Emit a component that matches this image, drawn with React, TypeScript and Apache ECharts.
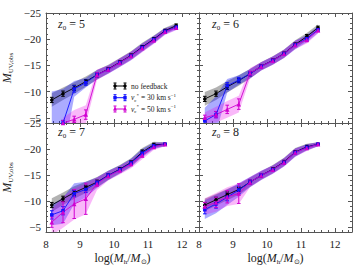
import React, { useEffect, useRef } from "react";
import * as echarts from "echarts";

const massBins = [8.17, 8.5, 8.83, 9.17, 9.5, 9.83, 10.17, 10.5, 10.83, 11.17, 11.5, 11.83];
const xTicks = [8, 9, 10, 11, 12];
const yTicks = [-25, -20, -15, -10, -5];

// z0 = 5
const z5Black = [-8.4, -9.6, -10.7, -11.9, -13.2, -14.3, -15.6, -16.9, -18.5, -20.0, -21.6, -22.6];
const z5BlackErr = [0.5, 0.5, 0.5, 0.4, 0.4, 0.3, 0.3, 0.3, 0.3, 0.3, 0.3, 0.3];
const z5BlackBand = [1.3, 1.2, 1.1, 1.0, 0.9, 0.8, 0.8, 0.8, 0.8, 0.7, 0.6, 0.5];
const z5Blue = [-3.0, -4.0, -10.5, -11.7, -13.2, -14.2, -15.5, -16.8, -18.4, -19.9, -21.5, -22.3];
const z5BlueErr = [0.5, 0.5, 0.6, 0.5, 0.4, 0.3, 0.3, 0.3, 0.3, 0.3, 0.3, 0.3];
const z5BlueBand = [7.0, 6.5, 1.5, 0.9, 0.9, 0.8, 0.8, 0.8, 0.8, 0.7, 0.6, 0.5];
const z5Mag = [null, -4.0, -4.7, -5.6, -13.2, -14.2, -15.5, -16.8, -18.3, -19.8, -21.4, -22.2];
const z5MagErr = [0, 0.5, 0.6, 0.9, 0.4, 0.3, 0.3, 0.3, 0.3, 0.3, 0.3, 0.3];
const z5MagBand = [0, 1.0, 1.8, 1.8, 1.0, 0.8, 0.8, 0.8, 0.8, 0.7, 0.6, 0.5];

// z0 = 6
const z6Black = [-8.6, -9.6, -10.9, -12.1, -13.4, -14.85, -15.95, -17.25, -19.0, -20.5, -22.2];
const z6BlackErr = [0.5, 0.5, 0.5, 0.4, 0.4, 0.3, 0.3, 0.3, 0.3, 0.4, 0.3];
const z6BlackBand = [1.3, 1.2, 1.1, 1.0, 0.9, 0.8, 0.8, 0.8, 0.8, 0.7, 0.6];
const z6Blue = [-4.4, -5.6, -11.1, -12.2, -13.4, -14.8, -15.9, -17.2, -18.9, -20.1, -21.8];
const z6BlueErr = [0.5, 0.6, 0.6, 0.5, 0.4, 0.3, 0.3, 0.3, 0.3, 0.4, 0.3];
const z6BlueBand = [2.5, 3.5, 1.3, 0.9, 0.9, 0.8, 0.8, 0.8, 0.8, 0.7, 0.6];
const z6Mag = [-5.0, -5.6, -6.6, -7.6, -13.5, -14.8, -15.9, -17.2, -18.9, -19.9, -21.7];
const z6MagErr = [0.5, 0.6, 0.8, 1.0, 0.4, 0.3, 0.3, 0.3, 0.3, 0.4, 0.3];
const z6MagBand = [1.0, 1.5, 1.6, 1.6, 1.0, 0.8, 0.8, 0.8, 0.8, 0.7, 0.6];

// z0 = 7
const z7Black = [-9.2, -10.4, -11.6, -12.6, -13.6, -14.9, -16.1, -17.4, -19.4, -20.8, -20.9];
const z7BlackErr = [0.5, 0.5, 0.5, 0.4, 0.4, 0.3, 0.3, 0.3, 0.4, 0.3, 0.2];
const z7BlackBand = [1.3, 1.2, 1.2, 1.1, 1.0, 0.9, 0.8, 0.8, 0.8, 0.6, 0.4];
const z7Blue = [-7.3, -8.1, -11.4, -12.2, -13.5, -14.9, -16.0, -17.3, -19.2, -20.6, -20.9];
const z7BlueErr = [0.8, 0.8, 0.6, 0.6, 0.4, 0.3, 0.3, 0.3, 0.4, 0.3, 0.2];
const z7BlueBand = [2.0, 2.5, 2.0, 1.5, 1.0, 0.9, 0.8, 0.8, 0.8, 0.6, 0.4];
const z7Mag = [-5.9, -7.8, -9.4, -10.4, -13.3, -14.8, -15.9, -17.1, -18.8, -20.4, -20.9];
const z7MagErr = [1.0, 2.0, 2.8, 3.0, 0.5, 0.3, 0.3, 0.3, 0.4, 0.3, 0.2];
const z7MagBand = [2.5, 3.0, 3.0, 3.0, 1.2, 0.9, 0.8, 0.8, 0.8, 0.6, 0.4];

// z0 = 8
const z8Black = [-9.2, -10.2, -11.2, -12.2, -13.6, -14.9, -16.1, -17.5, -19.4, -20.4, -20.9];
const z8BlackErr = [0.5, 0.5, 0.5, 0.4, 0.4, 0.3, 0.3, 0.3, 0.3, 0.3, 0.2];
const z8BlackBand = [1.2, 1.1, 1.1, 1.0, 0.9, 0.8, 0.8, 0.8, 0.8, 0.6, 0.4];
const z8Blue = [-8.3, -9.4, -10.7, -12.1, -13.6, -14.9, -16.0, -17.4, -19.3, -20.3, -20.9];
const z8BlueErr = [0.8, 0.8, 0.7, 0.7, 0.4, 0.3, 0.3, 0.3, 0.3, 0.3, 0.2];
const z8BlueBand = [1.8, 1.8, 1.5, 1.3, 1.0, 0.9, 0.8, 0.8, 0.8, 0.6, 0.4];
const z8Mag = [-8.9, -9.7, -10.8, -11.4, -13.6, -14.9, -16.0, -17.4, -19.3, -20.2, -20.9];
const z8MagErr = [0.8, 1.0, 1.2, 1.9, 0.4, 0.3, 0.3, 0.3, 0.3, 0.3, 0.2];
const z8MagBand = [1.6, 1.8, 1.8, 2.0, 1.0, 0.9, 0.8, 0.8, 0.8, 0.6, 0.4];

const panelLabels = ["5", "6", "7", "8"];
const legendLabels = ["no feedback", "30", "50"];

const FONT = "Liberation Serif";
const AX = "#555";
const TXT = "#222";
const COLORS = ["#000000", "#1010ff", "#d000d0"];
const BANDS = ["rgba(0,0,0,0.3)", "rgba(0,0,255,0.33)", "rgba(235,0,235,0.28)"];
const SYMBOLS = ["circle", "rect", "triangle"];

const grids = [
  { left: 46, top: 13, width: 153, height: 110 },
  { left: 199, top: 13, width: 153, height: 110 },
  { left: 46, top: 123, width: 153, height: 109 },
  { left: 199, top: 123, width: 153, height: 109 },
];

const panels = [
  [[z5Black, z5BlackErr, z5BlackBand], [z5Blue, z5BlueErr, z5BlueBand], [z5Mag, z5MagErr, z5MagBand]],
  [[z6Black, z6BlackErr, z6BlackBand], [z6Blue, z6BlueErr, z6BlueBand], [z6Mag, z6MagErr, z6MagBand]],
  [[z7Black, z7BlackErr, z7BlackBand], [z7Blue, z7BlueErr, z7BlueBand], [z7Mag, z7MagErr, z7MagBand]],
  [[z8Black, z8BlackErr, z8BlackBand], [z8Blue, z8BlueErr, z8BlueBand], [z8Mag, z8MagErr, z8MagBand]],
];

const mkRich = (size: number, subSize: number, lh: number) => ({
  i: { fontFamily: FONT, fontStyle: "italic", fontWeight: "normal", fontSize: size, color: TXT, lineHeight: lh },
  n: { fontFamily: FONT, fontWeight: "normal", fontSize: size, color: TXT, lineHeight: lh },
  sub: { fontFamily: FONT, fontWeight: "normal", fontSize: subSize, color: TXT, verticalAlign: "bottom", lineHeight: subSize + 1 },
  sup: { fontFamily: FONT, fontWeight: "normal", fontSize: subSize, color: TXT, verticalAlign: "top", lineHeight: subSize + 1 },
});
const mathRich = mkRich(12, 7, 14);

function buildOption() {
  const xAxis: any[] = [];
  const yAxis: any[] = [];
  const series: any[] = [];
  grids.forEach((g, gi) => {
    const isBottom = gi >= 2;
    const isLeft = gi % 2 === 0;
    const common = {
      gridIndex: gi,
      type: "value",
      axisLine: { show: true, lineStyle: { color: AX, width: 1 } },
      axisTick: { show: true, inside: true, length: 4, lineStyle: { color: AX } },
      minorTick: { show: true, splitNumber: 5, length: 2, lineStyle: { color: AX } },
      splitLine: { show: false },
    };
    xAxis.push({
      ...common,
      min: 8,
      max: 12.5,
      interval: 1,
      position: "bottom",
      axisLabel: {
        show: isBottom,
        fontFamily: FONT,
        fontSize: 11,
        color: TXT,
        margin: 6,
        showMaxLabel: false,
        formatter: (v: number) => (xTicks.includes(v) ? String(v) : ""),
      },
      name: isBottom ? "{n|log(}{i|M}{sub|h}{n|/}{i|M}{sub|⊙}{n|)}" : "",
      nameLocation: "middle",
      nameGap: 19,
      nameTextStyle: { rich: mathRich },
    });
    xAxis.push({ ...common, min: 8, max: 12.5, interval: 1, position: "top", axisLabel: { show: false } });
    yAxis.push({
      ...common,
      min: -25,
      max: -4,
      interval: 5,
      inverse: true,
      position: "left",
      axisLabel: {
        show: isLeft,
        fontFamily: FONT,
        fontSize: 11,
        color: TXT,
        margin: 5,
        formatter: (v: number) => (yTicks.includes(v) ? "\u2212" + Math.abs(v) : ""),
      },
      name: isLeft ? "{i|M}{sub|UV,obs}" : "",
      nameLocation: "middle",
      nameGap: 32,
      nameTextStyle: { rich: mathRich },
    });
    yAxis.push({ ...common, min: -25, max: -4, interval: 5, inverse: true, position: "right", axisLabel: { show: false } });

    const xi = gi * 2;
    const yi = gi * 2;
    const sets = panels[gi];
    sets.forEach((s, si) => {
      const [mean, , band] = s;
      const pts: number[][] = [];
      mean.forEach((m, k) => {
        if (m !== null && m !== undefined) pts.push([massBins[k], m as number, band[k]]);
      });
      series.push({
        type: "custom",
        xAxisIndex: xi,
        yAxisIndex: yi,
        clip: true,
        silent: true,
        data: [0],
        renderItem: (params: any, api: any) => {
          const upper = pts.map((p) => api.coord([p[0], p[1] - p[2]]));
          const lower = pts.map((p) => api.coord([p[0], p[1] + p[2]])).reverse();
          const cs = params.coordSys;
          return {
            type: "polygon",
            shape: { points: upper.concat(lower) },
            style: { fill: BANDS[si], stroke: "none" },
            clipPath: { type: "rect", shape: { x: cs.x, y: cs.y, width: cs.width, height: cs.height } },
          };
        },
      });
    });
    sets.forEach((s, si) => {
      const [mean, err] = s;
      const pts: number[][] = [];
      mean.forEach((m, k) => {
        if (m !== null && m !== undefined) pts.push([massBins[k], m as number, err[k]]);
      });
      const color = COLORS[si];
      series.push({
        type: "custom",
        xAxisIndex: xi,
        yAxisIndex: yi,
        clip: true,
        silent: true,
        encode: { x: 0, y: 1 },
        data: pts,
        renderItem: (params: any, api: any) => {
          const x = api.value(0);
          const y = api.value(1);
          const e = api.value(2);
          const a = api.coord([x, y - e]);
          const b = api.coord([x, y + e]);
          const cs = params.coordSys;
          return {
            type: "group",
            clipPath: { type: "rect", shape: { x: cs.x, y: cs.y, width: cs.width, height: cs.height } },
            children: [
              { type: "line", shape: { x1: a[0], y1: a[1], x2: b[0], y2: b[1] }, style: { stroke: color, lineWidth: 1 } },
              { type: "line", shape: { x1: a[0] - 1.8, y1: a[1], x2: a[0] + 1.8, y2: a[1] }, style: { stroke: color, lineWidth: 1 } },
              { type: "line", shape: { x1: b[0] - 1.8, y1: b[1], x2: b[0] + 1.8, y2: b[1] }, style: { stroke: color, lineWidth: 1 } },
            ],
          };
        },
      });
      series.push({
        type: "line",
        xAxisIndex: xi,
        yAxisIndex: yi,
        clip: true,
        data: pts.map((p) => [p[0], p[1]]),
        symbol: SYMBOLS[si],
        symbolSize: si === 2 ? 4.5 : 3.5,
        showSymbol: true,
        lineStyle: { color, width: 0.9 },
        itemStyle: { color },
        silent: true,
      });
    });
  });

  const title: any[] = [];
  const labelPos = [
    [58, 17],
    [212, 17],
    [58, 125],
    [212, 125],
  ];
  panelLabels.forEach((z, i) => {
    title.push({
      text: "{i|z}{sub|0}{n| = " + z + "}",
      left: labelPos[i][0],
      top: labelPos[i][1],
      padding: 0,
      textStyle: { fontWeight: "normal", fontFamily: FONT, rich: mathRich },
    });
  });

  const legRows = [86, 97.7, 109];
  const legRich = mkRich(7.5, 5, 10);
  const graphic: any[] = [];
  legRows.forEach((y, i) => {
    const color = COLORS[i];
    const children: any[] = [
      { type: "line", shape: { x1: 115, y1: y, x2: 125, y2: y }, style: { stroke: color, lineWidth: 1 } },
    ];
    [115, 125].forEach((x) => {
      children.push({ type: "line", shape: { x1: x, y1: y - 3, x2: x, y2: y + 3 }, style: { stroke: color, lineWidth: 1 } });
      children.push({ type: "line", shape: { x1: x - 1.5, y1: y - 3, x2: x + 1.5, y2: y - 3 }, style: { stroke: color, lineWidth: 1 } });
      children.push({ type: "line", shape: { x1: x - 1.5, y1: y + 3, x2: x + 1.5, y2: y + 3 }, style: { stroke: color, lineWidth: 1 } });
      if (i === 0) children.push({ type: "circle", shape: { cx: x, cy: y, r: 1.7 }, style: { fill: color } });
      else if (i === 1) children.push({ type: "rect", shape: { x: x - 1.7, y: y - 1.7, width: 3.4, height: 3.4 }, style: { fill: color } });
      else children.push({ type: "polygon", shape: { points: [[x, y - 2.2], [x - 2, y + 1.5], [x + 2, y + 1.5]] }, style: { fill: color } });
    });
    graphic.push({ type: "group", children });
    const txt =
      i === 0
        ? "{n|" + legendLabels[0] + "}"
        : "{i|v}{sub|c}{sup|*}{n| = " + legendLabels[i] + " km s}{sup|\u22121}";
    title.push({
      text: txt,
      left: 131,
      top: y - 5,
      padding: 0,
      textStyle: { fontWeight: "normal", fontFamily: FONT, rich: legRich },
    });
  });

  return {
    animation: false,
    backgroundColor: "#ffffff",
    grid: grids.map((g) => ({ ...g, containLabel: false })),
    title,
    xAxis,
    yAxis,
    series,
    graphic,
  };
}

export default function App() {
  const ref = useRef<HTMLDivElement>(null);
  useEffect(() => {
    if (!ref.current) return;
    const chart = echarts.init(ref.current, null, { renderer: "svg" });
    chart.setOption(buildOption() as any);
    return () => chart.dispose();
  }, []);
  return <div ref={ref} style={{ width: 360, height: 270, position: "absolute", left: 0, top: 0 }} />;
}
